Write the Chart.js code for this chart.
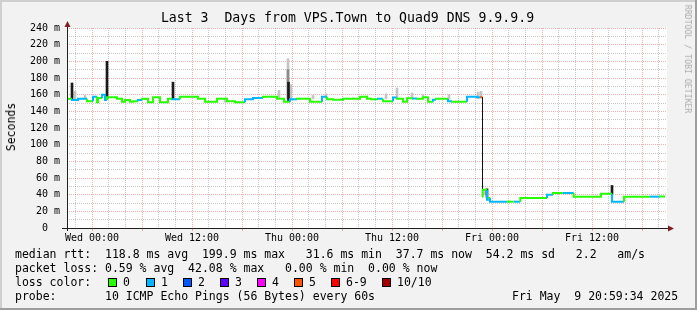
<!DOCTYPE html>
<html><head><meta charset="utf-8">
<script src="https://cdn.jsdelivr.net/npm/chart.js@4.4.0/dist/chart.umd.min.js"></script>
<style>
html,body{margin:0;padding:0;background:#f2f2f2;}
#wrap{position:relative;width:697px;height:310px;overflow:hidden;}
canvas{position:absolute;left:0;top:0;}
.t{position:absolute;font-family:"DejaVu Sans Mono",monospace;color:#000;white-space:pre;}
.lg{font-size:11.5px;line-height:14px;}
.box{position:absolute;width:7px;height:7px;border:1px solid #000;top:278px;}
</style></head><body>
<div id="wrap">
<canvas id="c" width="697" height="310"></canvas>
<div class="t" style="left:0;width:695px;text-align:center;top:10px;font-size:13.2px;line-height:16px;">Last 3  Days from VPS.Town to Quad9 DNS 9.9.9.9</div>
<div class="t lg" style="left:11px;top:127px;transform:translate(-50%,-50%) rotate(-90deg);">Seconds</div>
<div class="t" style="left:688px;top:59px;transform:translate(-50%,-50%) rotate(90deg);font-size:8.2px;line-height:10px;color:#ababab;">RRDTOOL / TOBI OETIKER</div>
<div class="t lg" style="left:15px;top:247px;">median rtt:  118.8 ms avg  199.9 ms max   31.6 ms min  37.7 ms now  54.2 ms sd   2.2   am/s</div>
<div class="t lg" style="left:15px;top:261px;">packet loss: 0.59 % avg  42.08 % max   0.00 % min  0.00 % now</div>
<div class="t lg" style="left:15px;top:275px;">loss color:</div>
<div id="legendBoxes"></div>
<div class="t lg" style="left:15px;top:289px;">probe:       10 ICMP Echo Pings (56 Bytes) every 60s</div>
<div class="t lg" style="left:512px;top:289px;">Fri May  9 20:59:34 2025</div>
</div>
<script>
// ---- data (hours relative to Wed 00:00) ----
const hours = [-3.0,-2.4,-1.68,-0.6,0.12,0.6,0.72,1.2,1.56,1.8,3.0,3.6,3.96,4.56,4.92,5.52,6.0,6.72,7.32,8.16,9.12,9.6,10.56,12.72,13.56,15.0,16.2,17.16,18.36,19.32,20.52,22.2,23.04,23.76,24.6,26.16,27.6,28.2,28.92,30.12,32.16,33.0,33.48,34.32,34.92,36.12,36.6,37.32,37.8,38.52,39.0,39.72,40.32,40.92,41.28,42.72,43.2,45.0,46.2,46.56,46.88,47.4,47.64,47.76,49.8,50.6,51.4,52.92,54.6,55.32,55.8,56.5,57.8,61.08,62.4,63.84,64.8,66.96,68.16,68.76];
const median = [155,155,153.6,155,152,157.6,151,156,160,153.6,156.8,155,151.6,153.6,151.6,152,153.6,155,151,157,151,155,154.4,157.6,155,151.6,155,152,150.8,154.6,156,157.6,155,151.6,154.6,155,151.6,157.6,154.6,154,155,157.6,155,154.5,155,152,156.5,155,151.6,155.6,155.5,155,157,151.6,154,155,152,151.6,157.6,157,37,46,34,36,31.6,31.6,31.6,36,36,40,42,42,42,37.6,41,31.6,37.6,37.6,37.6,37.7];
const loss = [0,1,1,0,1,0,0,1,1,0,0,0,0,0,0,1,0,0,0,0,0,1,0,0,0,0,0,0,1,1,0,0,0,1,0,0,1,0,0,0,0,0,0,1,0,1,0,0,0,1,0,0,0,1,0,1,0,1,1,5,0,1,0,1,0,1,0,0,1,0,0,1,0,0,1,0,0,1,0,0];

const smokeHours = [-2.04,-0.84,15.96,22.44,23.52,23.88,26.52,28.08,35.28,36.6,38.4,39.72,42.84,46.32,46.68,47.16];
const smokeLow   = [155,155,151,155,155,155,155,155,155,155,155,155,155,155,156,40];
const smokeHigh  = [164,159,156,165,203,172,159,161,161,168,162,160,160,163,164,46];
const midHours = [23.52];
const midLow   = [155];
const midHigh  = [190];
const spikeHours = [-2.4,1.8,9.72,23.58,47.4,62.4];
const spikeLow   = [155,155,155,152,37,41];
const spikeHigh  = [174,200,175,175,47,51];

const xTickHours  = [0,12,24,36,48,60];
const xTickLabels = ['Wed 00:00','Wed 12:00','Thu 00:00','Thu 12:00','Fri 00:00','Fri 12:00'];
const yTickValues = [0,20,40,60,80,100,120,140,160,180,200,220,240];
const yTickLabels = ['0  ','20 m','40 m','60 m','80 m','100 m','120 m','140 m','160 m','180 m','200 m','220 m','240 m'];

const legendLabels = ['0','1','2','3','4','5','6-9','10/10'];
const legendColors = ['#26ff00','#00b8ff','#0059ff','#5e00ff','#ff00ff','#ff5500','#ff0000','#a10000'];
const legendBoxX = [108,146,183,220,257,294,331,382];

// ---- legend boxes ----
const lb = document.getElementById('legendBoxes');
legendLabels.forEach((l,i)=>{
  const b=document.createElement('div'); b.className='box';
  b.style.left=legendBoxX[i]+'px'; b.style.background=legendColors[i]; lb.appendChild(b);
  const t=document.createElement('div'); t.className='t lg';
  t.style.left=(legendBoxX[i]+15)+'px'; t.style.top='275px'; t.textContent=l; lb.appendChild(t);
});

function lossColor(n){ if(n>=10) return legendColors[7]; if(n>=6) return legendColors[6]; return legendColors[n]; }

const GRID='rgba(143,143,143,0.5)';
const MGRID='rgba(222,79,79,0.45)';
const FONT={family:"'DejaVu Sans Mono', monospace", size:10};

function bars(hs,lo,hi,color,order){
  return {type:'bar', data:hs.map((h,i)=>({x:h,y:[lo[i],hi[i]]})), backgroundColor:color,
    borderWidth:0, barThickness:2, grouped:false, order:order};
}
function bigJump(c){ return Math.abs(c.p1.parsed.y - c.p0.parsed.y) > 50; }

const frame = {
  id:'frame',
  beforeDraw(chart){
    const ctx=chart.ctx, a=chart.chartArea;
    ctx.save();
    ctx.fillStyle='#f2f2f2'; ctx.fillRect(0,0,697,310);
    ctx.fillStyle='#cfcfcf'; ctx.fillRect(0,0,697,2); ctx.fillRect(0,0,2,310);
    ctx.fillStyle='#9e9e9e'; ctx.fillRect(0,308,697,2); ctx.fillRect(695,0,2,310);
    ctx.fillStyle='#ffffff'; ctx.fillRect(a.left,a.top,a.right-a.left,a.bottom-a.top);
    ctx.restore();
  },
  afterDatasetsDraw(chart){
    const ctx=chart.ctx, a=chart.chartArea;
    ctx.save();
    ctx.fillStyle='rgb(31,31,31)';
    ctx.fillRect(a.left-5, a.bottom, a.right+1-(a.left-5), 1);
    ctx.fillRect(a.left, a.top-2, 1, a.bottom+3-(a.top-2));
    ctx.fillStyle='rgb(128,31,31)';
    ctx.beginPath(); ctx.moveTo(a.left+0.5,a.top-7); ctx.lineTo(a.left-2.5,a.top-1); ctx.lineTo(a.left+3.5,a.top-1); ctx.closePath(); ctx.fill();
    ctx.beginPath(); ctx.moveTo(a.right+7,a.bottom+0.5); ctx.lineTo(a.right+1,a.bottom-2.5); ctx.lineTo(a.right+1,a.bottom+3.5); ctx.closePath(); ctx.fill();
    ctx.restore();
  }
};

// insert a hold point just before the big drop so the vertical is drawn black and thin
const linePts = [];
hours.forEach((h,i)=>{
  linePts.push({x:h,y:median[i],l:loss[i]});
  if(i+1<hours.length && Math.abs(median[i+1]-median[i])>50){
    linePts.push({x:hours[i+1]-0.02,y:median[i],l:-1});
  }
});

new Chart(document.getElementById('c'), {
  type:'line',
  data:{datasets:[
    {type:'line', data:linePts, stepped:'after', borderWidth:2,
     pointRadius:0, fill:false, tension:0, borderColor:lossColor(0),
     segment:{
       borderColor:c=>{const l=linePts[c.p0DataIndex].l; return l<0?'#111111':lossColor(l);},
       borderWidth:c=>linePts[c.p0DataIndex].l<0?1:2
     }, order:1},
    bars(smokeHours,smokeLow,smokeHigh,'#c4c4c4',4),
    bars(midHours,midLow,midHigh,'#8a8a8a',3),
    bars(spikeHours,spikeLow,spikeHigh,'#1a1a1a',2)
  ]},
  options:{
    responsive:false, animation:false, events:[],
    layout:{padding:{left:0,top:28,right:30,bottom:60}},
    plugins:{legend:{display:false}, tooltip:{enabled:false}, title:{display:false}},
    scales:{
      x:{type:'linear', min:-3, max:69, offset:false,
        afterBuildTicks:s=>{const t=[]; for(let v=-2; v<=68; v+=2) t.push({value:v}); s.ticks=t;},
        ticks:{autoSkip:false, maxRotation:0, minRotation:0, padding:1, font:FONT, color:'#000',
          callback:v=>{const i=xTickHours.indexOf(v); return i>=0?xTickLabels[i]:'';}},
        grid:{offset:false, lineWidth:1, tickLength:3, drawTicks:true,
          color:c=>(c.tick && c.tick.value%6===0)?MGRID:GRID,
          tickColor:c=>(c.tick && c.tick.value%6===0)?MGRID:'rgba(0,0,0,0)'},
        border:{display:false, dash:[1,1]},
        afterFit:s=>{s.height=22;}
      },
      y:{type:'linear', min:0, max:240,
        afterBuildTicks:s=>{const t=[]; for(let v=0; v<=240; v+=10) t.push({value:v}); s.ticks=t;},
        ticks:{autoSkip:false, padding:7, font:FONT, color:'#000',
          callback:v=>{const i=yTickValues.indexOf(v); return i>=0?yTickLabels[i]:'';}},
        grid:{lineWidth:1, drawTicks:false, color:c=>(c.tick && c.tick.value%20===0)?MGRID:GRID},
        border:{display:false, dash:[1,1]},
        afterFit:s=>{s.width=67;}
      }
    }
  },
  plugins:[frame]
});
</script>
</body></html>
